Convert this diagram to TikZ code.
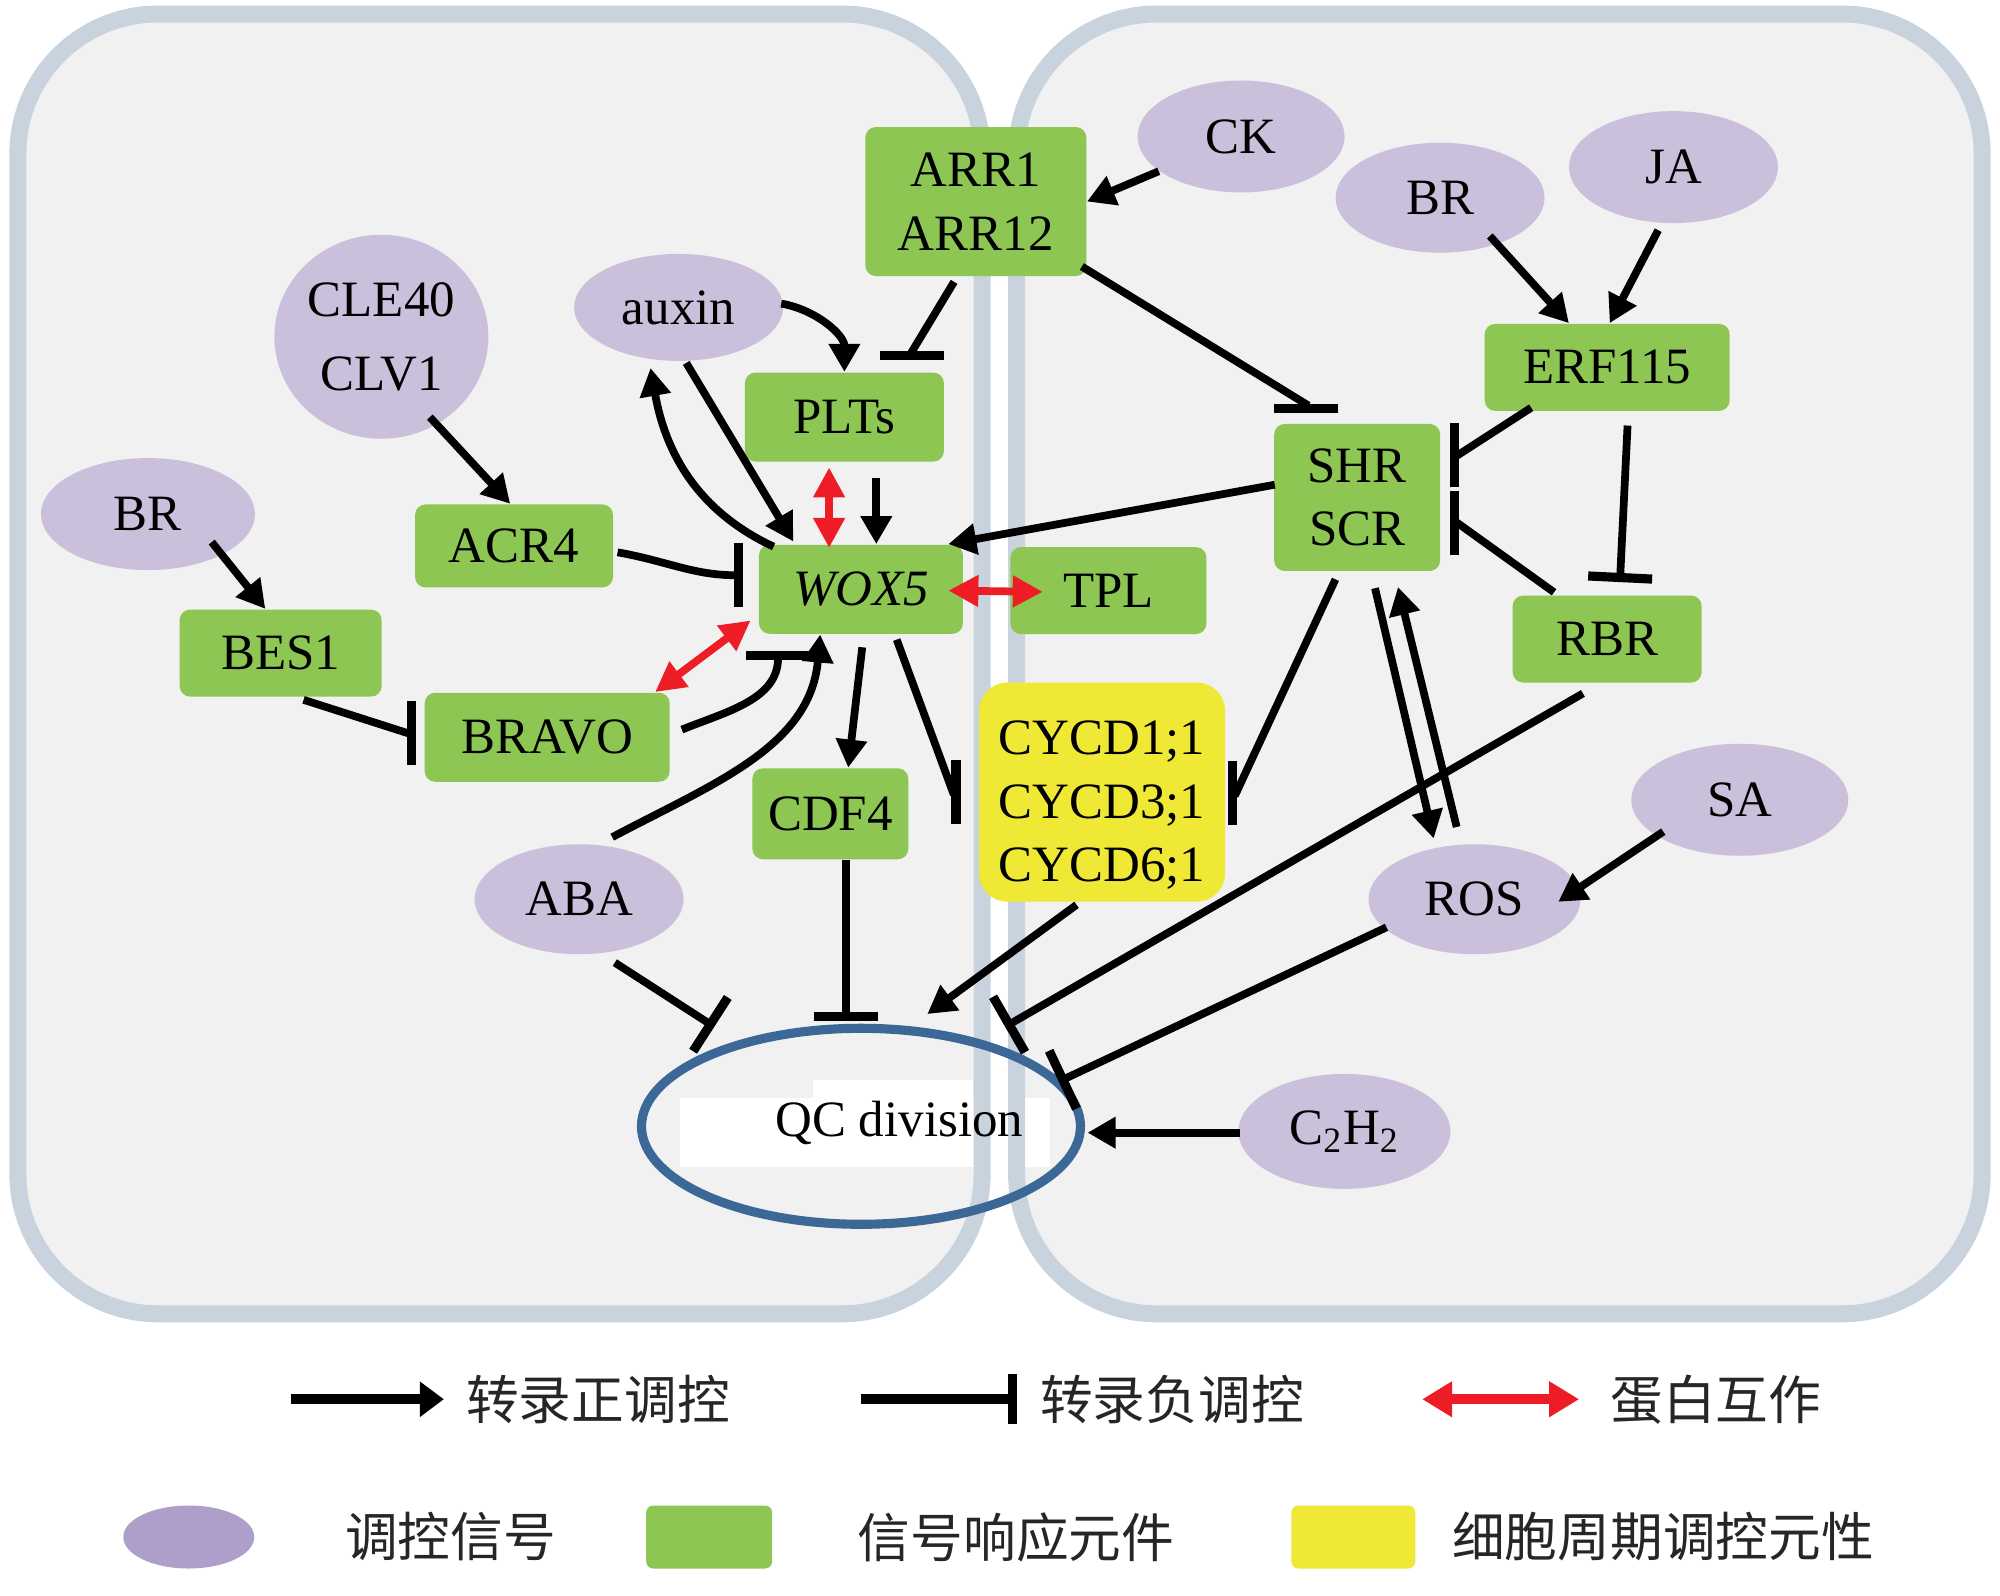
\documentclass[tikz,border=0pt]{standalone}
\usepackage{fontspec}
\setmainfont{Liberation Serif}
\newfontfamily\cjk{Noto Sans CJK SC}
\usepackage{xcolor}
\usepackage{tikz}
\usetikzlibrary{arrows.meta,calc,shapes.geometric}
\definecolor{sigfill}{HTML}{CBC0DC}
\definecolor{sigkey}{HTML}{AD9ECA}
\definecolor{genefill}{HTML}{8DC653}
\definecolor{cyclefill}{HTML}{EFE834}
\definecolor{cellfill}{HTML}{F1F1F1}
\definecolor{wallblue}{HTML}{C9D3DE}
\definecolor{qcblue}{HTML}{3B6896}
\definecolor{bindred}{HTML}{EE1C24}
\newcommand{\genefont}{\fontsize{14.5}{18.1}\selectfont}
\newcommand{\keyfont}{\cjk\fontsize{15}{18}\selectfont}
\tikzset{
  cellbody/.style={fill=cellfill, rounded corners=1.4cm},
  wall/.style={draw=wallblue, line width=0.17cm, rounded corners=1.4cm},
  gene/.style={rectangle, rounded corners=3pt, fill=genefill, inner sep=0pt,
    minimum height=0.87cm, align=center, font=\genefont},
  cyclin/.style={gene, fill=cyclefill, rounded corners=0.28cm},
  sig/.style={ellipse, fill=sigfill, inner sep=0pt, align=center, font=\genefont},
  qcring/.style={ellipse, draw=qcblue, line width=2.6pt, inner sep=0pt},
  act/.style={line width=2.2pt, -{Triangle[length=0.28cm, width=0.3cm]}},
  inh/.style={line width=2.2pt, -{Bar[width=0.64cm, line width=2.6pt]}},
  bind/.style={line width=2.2pt, draw=bindred,
    {Triangle[length=0.3cm, width=0.3cm]}-{Triangle[length=0.3cm, width=0.3cm]}},
  keyact/.style={line width=2.8pt, -{Triangle[length=0.24cm, width=0.34cm]}},
  keyinh/.style={line width=2.8pt, -{Bar[width=0.5cm, line width=2.4pt]}},
  keybind/.style={line width=2.8pt, draw=bindred,
    {Triangle[length=0.3cm, width=0.34cm]}-{Triangle[length=0.3cm, width=0.34cm]}},
  keytext/.style={anchor=west, inner sep=0pt, font=\keyfont, text=black!85}
}

\begin{document}
\begin{tikzpicture}[x=0.012755cm, y=-0.012755cm]
\useasboundingbox (0,0) rectangle (1568,1251);

% two cells
\fill[cellbody] (14,11) rectangle (770,1030);
\fill[cellbody] (797,11) rectangle (1554,1030);
\coordinate (qcc) at (675,883);
\fill[white] ($(qcc)+(-142,-22)$) rectangle ($(qcc)+(148,32)$);
\fill[white] ($(qcc)+(-38,-36)$) rectangle ($(qcc)+(88,-22)$);
\draw[wall] (14,11) rectangle (770,1030);
\draw[wall] (797,11) rectangle (1554,1030);

% signals
\node[sig, minimum width=2.07cm, minimum height=1.12cm] (ck) at (973,107) {CK};
\node[sig, minimum width=2.09cm, minimum height=1.10cm] (brr) at (1129,155) {BR};
\node[sig, minimum width=2.09cm, minimum height=1.12cm] (ja) at (1312,131) {JA};
\node[sig, minimum width=2.14cm, minimum height=2.04cm] (cle) at (299,264) {CLE40\\[3pt]CLV1};
\node[sig, minimum width=2.09cm, minimum height=1.07cm] (auxin) at (532,241) {auxin};
\node[sig, minimum width=2.14cm, minimum height=1.12cm] (brl) at (116,403) {BR};
\node[sig, minimum width=2.09cm, minimum height=1.10cm] (aba) at (454,705) {ABA};
\node[sig, minimum width=2.17cm, minimum height=1.12cm] (sa) at (1364,627) {SA};
\node[sig, minimum width=2.12cm, minimum height=1.10cm] (ros) at (1156,705) {ROS};
\node[sig, minimum width=2.12cm, minimum height=1.15cm] (chh) at (1054,887) {C\textsubscript{2}H\textsubscript{2}};

% responders
\node[gene, minimum width=2.21cm, minimum height=1.49cm] (arr) at (765,158) {ARR1\\ARR12};
\node[gene, minimum width=1.99cm, minimum height=0.89cm] (plts) at (662,327) {PLTs};
\node[gene, minimum width=2.04cm, minimum height=0.89cm] (wox) at (675,462) {\textit{WOX5}};
\node[gene, minimum width=1.96cm] (tpl) at (869,463) {TPL};
\node[gene, minimum width=1.98cm, minimum height=0.83cm] (acr) at (403,428) {ACR4};
\node[gene, minimum width=2.02cm] (bes) at (220,512) {BES1};
\node[gene, minimum width=2.45cm, minimum height=0.89cm] (bravo) at (429,578) {BRAVO};
\node[gene, minimum width=1.56cm, minimum height=0.91cm] (cdf) at (651,638) {CDF4};
\node[gene, minimum width=1.66cm, minimum height=1.47cm] (shr) at (1064,390) {SHR\\SCR};
\node[gene, minimum width=2.45cm] (erf) at (1260,288) {ERF115};
\node[gene, minimum width=1.89cm] (rbr) at (1260,501) {RBR};
\node[cyclin, minimum width=2.46cm, minimum height=2.19cm] (cycd) at (864,621) {\rule{0pt}{17pt}CYCD1;1\\CYCD3;1\\CYCD6;1};
\node[qcring, minimum width=4.39cm, minimum height=1.96cm] (qc) at (qcc) {};
\node[font=\genefont, inner sep=0pt] (qctext) at ($(qcc)+(30,-3)$) {QC division};

% left cell links
\draw[act] (ck) -- (arr.east);
\draw[inh] ($(arr.south)+(-17,4)$) -- ($(plts.north)+(53,-16)$) -- ($(plts.north)+(53,-9)$);
\draw[act] ($(auxin.east)+(-2,-3)$) to[out=-10,in=90] (plts.north);
\draw[act] ($(auxin.south)+(6,1)$) -- ($(wox.north)+(-53,-2)$);
\draw[act] ($(wox.north west)+(12,2)$) to[out=155,in=-80] ($(auxin.south)+(-22,5)$);
\draw[bind] ($(plts.south)+(-12,4)$) -- ($(wox.north)+(-25,3)$);
\draw[act] ($(plts.south)+(25,12)$) -- ($(wox.north)+(12,0)$);
\draw[inh] ($(acr.east)+(3,5)$) to[out=-10,in=180] ($(wox.west)+(-12,-11)$);
\draw[act] ($(brl)+(50,22)$) -- ($(bes.north)+(-12,0)$);
\draw[act] ($(cle)+(38,63)$) -- ($(acr.north)+(-3,0)$);
\draw[inh] ($(bes.south)+(18,2)$) -- ($(bravo.west)+(-12,-3)$) -- ($(bravo.west)+(-6,-3)$);
\draw[bind] ($(bravo.north east)+(-12,0)$) -- ($(wox.south west)+(-6,-11)$);
\draw[inh] ($(bravo.east)+(9,-6)$) to[out=22,in=-90] ($(wox.south)+(-65,13)$);
\draw[act] ($(aba.north)+(26,-5)$) to[out=28,in=-95] ($(wox.south)+(-32,0)$);
\draw[act] ($(wox.south)+(1,10)$) -- ($(cdf.north)+(14,0)$);
\draw[inh] ($(wox.south)+(28,4)$) -- ($(cycd.west)+(-20,0)$) -- ($(cycd.west)+(-14,0)$);
\draw[act] ($(shr.west)+(1,-10)$) -- ($(wox.north east)+(-12,0)$);
\draw[bind] ($(wox.east)+(-12,1)$) -- ($(tpl.west)+(26,1)$);

% right cell links
\draw[inh] ($(arr.south east)+(-4,-8)$) -- ($(shr.north)+(-40,-15)$) -- ($(shr.north)+(-40,-8)$);
\draw[act] ($(brr)+(39,30)$) -- ($(erf.north)+(-30,0)$);
\draw[act] ($(ja.south)+(-12,5)$) -- ($(erf.north)+(2,0)$);
\draw[inh] ($(erf.south west)+(37,-3)$) -- ($(shr.east)+(13,-33)$) -- ($(shr.east)+(7,-33)$);
\draw[inh] ($(rbr.north west)+(33,-2)$) -- ($(shr.east)+(13,20)$) -- ($(shr.east)+(7,20)$);
\draw[inh] ($(erf.south)+(16,11)$) -- ($(rbr.north)+(10,-10)$);
\draw[inh] ($(shr.south)+(-17,6)$) -- ($(cycd.east)+(8,1)$) -- ($(cycd.east)+(2,1)$);
\draw[act] ($(shr.south)+(14,13)$) -- ($(ros.north)+(-32,-4)$);
\draw[act] ($(ros.north)+(-14,-13)$) -- ($(shr.south)+(32,12)$);
\draw[act] ($(sa)+(-60,25)$) -- ($(ros.east)+(-18,2)$);

% into QC division
\draw[inh] ($(rbr.south)+(-19,8)$) -- ($(qc)+(113,-78)$);
\draw[inh] ($(ros)+(-69,22)$) -- ($(qc)+(155,-35)$);
\draw[act] ($(cycd.south)+(-20,2)$) -- ($(qc)+(52,-88)$);
\draw[act] ($(chh.west)+(2,1)$) -- ($(qc.east)+(2,5)$);
\draw[inh] ($(cdf.south)+(12,0)$) -- ($(qc.north)+(-12,-2)$);
\draw[inh] ($(aba.south)+(28,6)$) -- ($(qc)+(-115,-78)$);

% legend
\coordinate (keyposA) at (228,1097);
\coordinate (keyposB) at (348,1097);
\draw[keyact] (keyposA) -- (keyposB);
\node[keytext] (keypos) at (365,1097) {转录正调控};
\coordinate (keynegA) at (675,1097);
\coordinate (keynegB) at (797,1097);
\draw[keyinh] (keynegA) -- (keynegB);
\node[keytext] (keyneg) at (815,1097) {转录负调控};
\coordinate (keybindA) at (1115,1097);
\coordinate (keybindB) at (1238,1097);
\draw[keybind] (keybindA) -- (keybindB);
\node[keytext] (keybind) at (1262,1097) {蛋白互作};

\node[sig, fill=sigkey, minimum width=1.31cm, minimum height=0.63cm] (keysig) at (148,1205) {};
\node[keytext] (keysigtext) at (270,1205) {调控信号};
\node[gene, rounded corners=2pt, minimum width=1.26cm, minimum height=0.63cm] (keygene) at (556,1205) {};
\node[keytext] (keygenetext) at (672,1205) {信号响应元件};
\node[cyclin, rounded corners=2pt, minimum width=1.24cm, minimum height=0.63cm] (keycyc) at (1061,1205) {};
\node[keytext] (keycyctext) at (1138,1205) {细胞周期调控元性};
\end{tikzpicture}
\end{document}
